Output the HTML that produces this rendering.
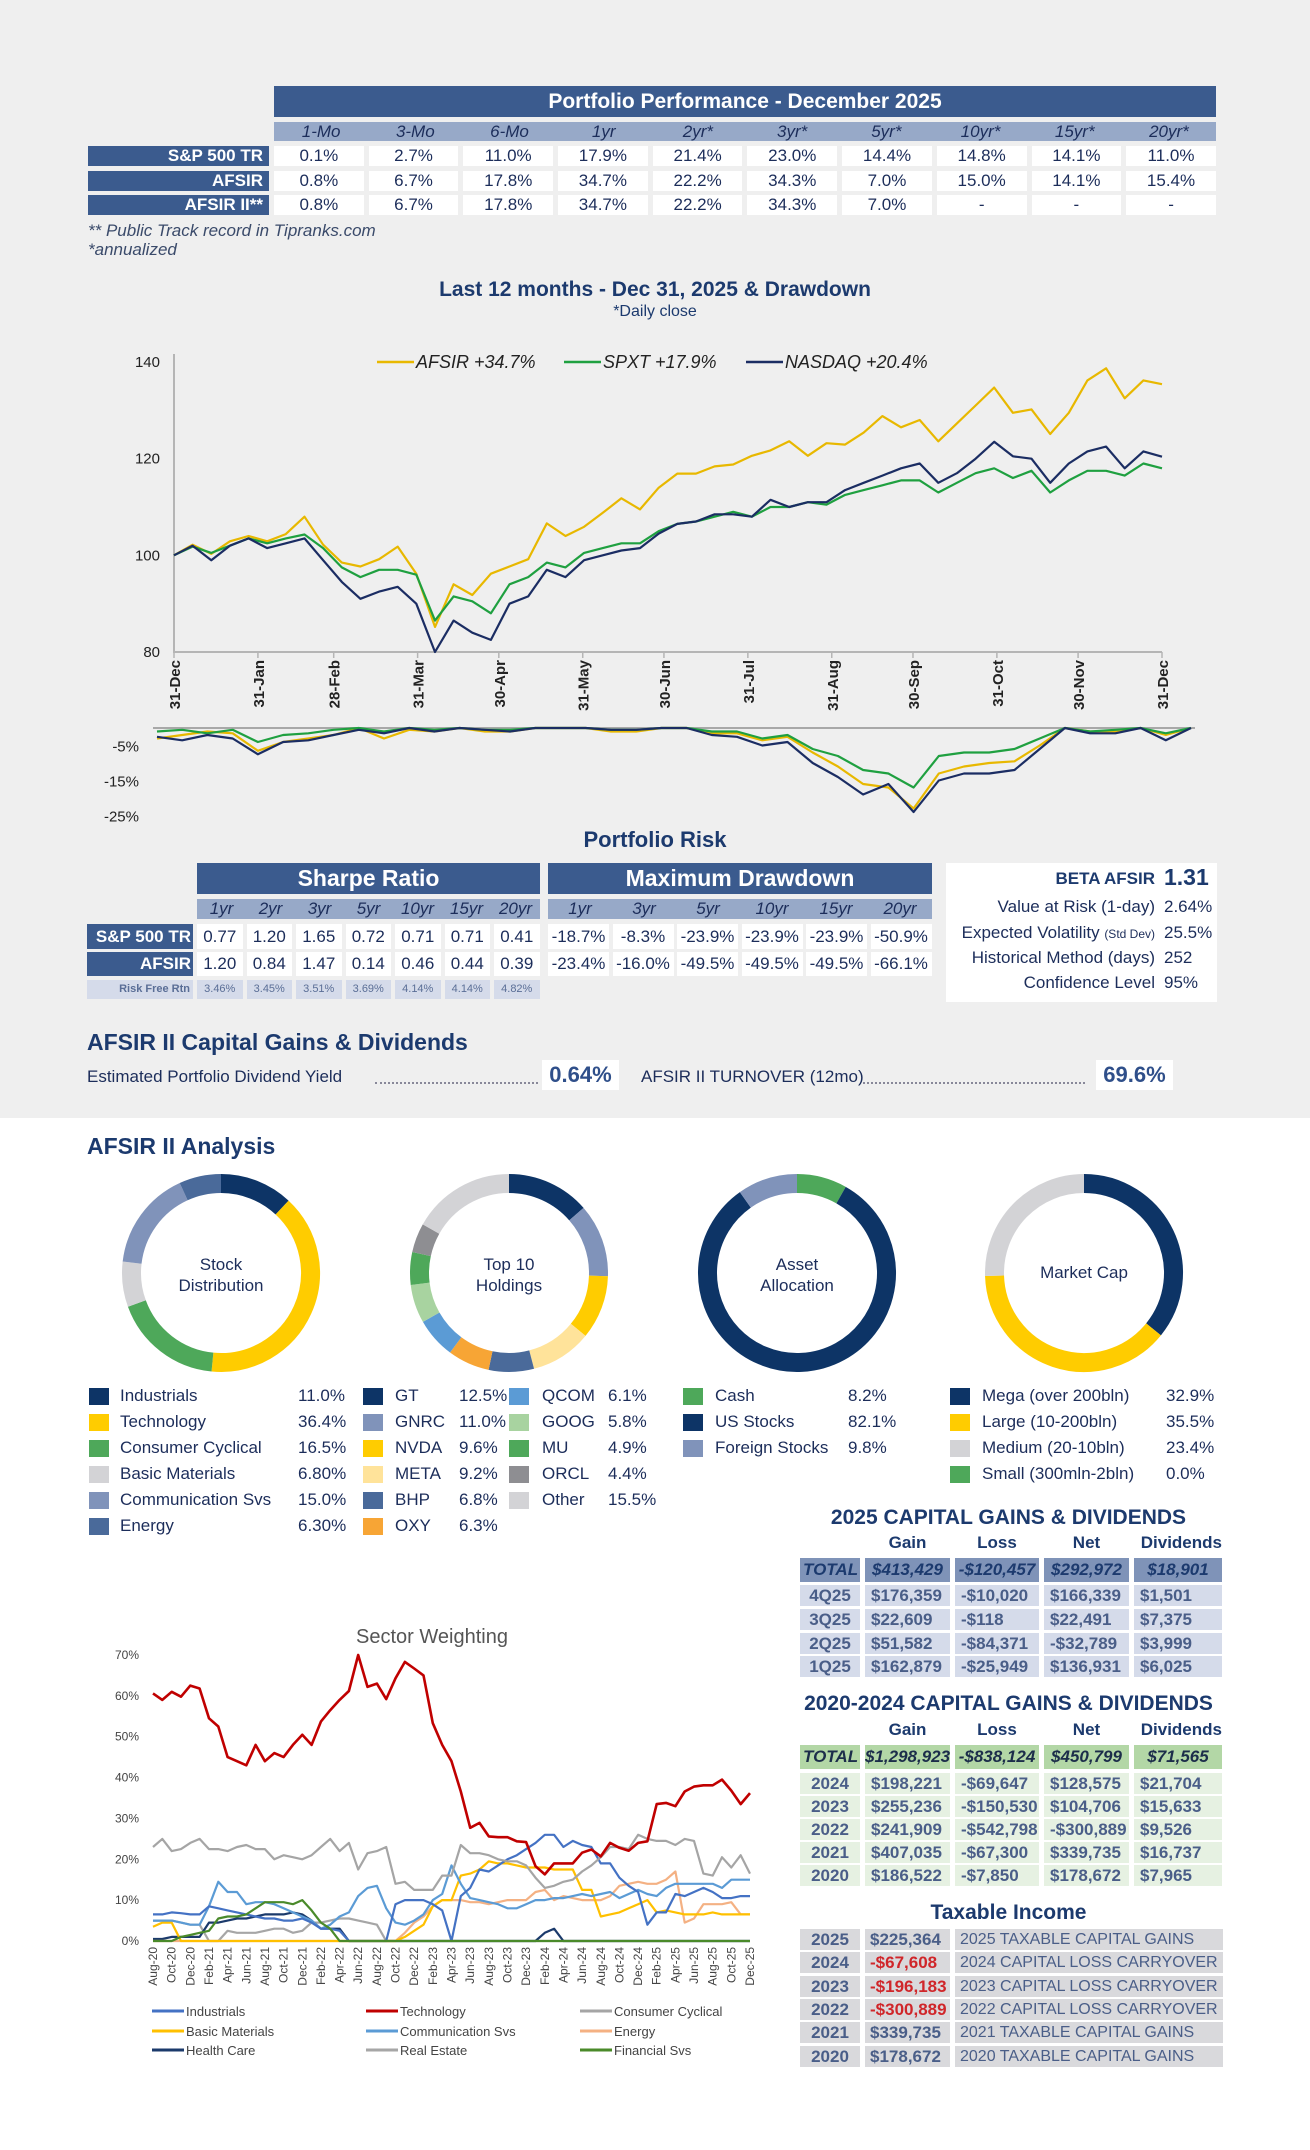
<!DOCTYPE html>
<html><head><meta charset="utf-8">
<style>
*{box-sizing:border-box;margin:0;padding:0}
body{width:1310px;height:2150px;position:relative;background:#fff;font-family:"Liberation Sans Narrow","Liberation Sans",sans-serif;color:#1c2d5a;overflow:hidden}
.abs{position:absolute}
.row{position:absolute;display:flex;gap:5px}
.lab{background:#3b5b8e;color:#fff;font-weight:bold;text-align:right;padding-right:6px}
.cell{background:#fff;text-align:center}
.hd{background:#3b5b8e;color:#fff;font-weight:bold;text-align:center}
.sub{background:#97a9c8;font-style:italic;text-align:center;display:flex}
.cg{position:absolute;display:flex;gap:5px;font-family:"Liberation Sans",sans-serif;font-weight:bold;font-size:17px}
.cg div{height:21px;line-height:21px;white-space:nowrap;overflow:hidden}
.sw{position:absolute;width:20px;height:17px}
.lg{position:absolute;font-size:17px;color:#1c2d5a;white-space:nowrap}
</style></head><body>
<div class="abs" style="left:0;top:0;width:1310px;height:1118px;background:#efefef"></div>

<!-- Performance table -->
<div class="abs hd" style="left:274px;top:86px;width:942px;height:31px;line-height:31px;font-size:21px">Portfolio Performance - December 2025</div>
<div class="abs sub" style="left:274px;top:122px;width:942px;height:19px;line-height:19px;font-size:17px;color:#1c2d5a">
<div style="flex:1">1-Mo</div><div style="flex:1">3-Mo</div><div style="flex:1">6-Mo</div><div style="flex:1">1yr</div><div style="flex:1">2yr*</div><div style="flex:1">3yr*</div><div style="flex:1">5yr*</div><div style="flex:1">10yr*</div><div style="flex:1">15yr*</div><div style="flex:1">20yr*</div></div>
<div class="row" style="left:88px;top:146px;height:20px;line-height:20px;font-size:17px">
<div class="lab" style="width:181px">S&amp;P 500 TR</div><div class="cell" style="width:89.7px">0.1%</div><div class="cell" style="width:89.7px">2.7%</div><div class="cell" style="width:89.7px">11.0%</div><div class="cell" style="width:89.7px">17.9%</div><div class="cell" style="width:89.7px">21.4%</div><div class="cell" style="width:89.7px">23.0%</div><div class="cell" style="width:89.7px">14.4%</div><div class="cell" style="width:89.7px">14.8%</div><div class="cell" style="width:89.7px">14.1%</div><div class="cell" style="width:89.7px">11.0%</div></div>
<div class="row" style="left:88px;top:171px;height:20px;line-height:20px;font-size:17px">
<div class="lab" style="width:181px">AFSIR</div><div class="cell" style="width:89.7px">0.8%</div><div class="cell" style="width:89.7px">6.7%</div><div class="cell" style="width:89.7px">17.8%</div><div class="cell" style="width:89.7px">34.7%</div><div class="cell" style="width:89.7px">22.2%</div><div class="cell" style="width:89.7px">34.3%</div><div class="cell" style="width:89.7px">7.0%</div><div class="cell" style="width:89.7px">15.0%</div><div class="cell" style="width:89.7px">14.1%</div><div class="cell" style="width:89.7px">15.4%</div></div>
<div class="row" style="left:88px;top:195px;height:20px;line-height:20px;font-size:17px">
<div class="lab" style="width:181px">AFSIR II**</div><div class="cell" style="width:89.7px">0.8%</div><div class="cell" style="width:89.7px">6.7%</div><div class="cell" style="width:89.7px">17.8%</div><div class="cell" style="width:89.7px">34.7%</div><div class="cell" style="width:89.7px">22.2%</div><div class="cell" style="width:89.7px">34.3%</div><div class="cell" style="width:89.7px">7.0%</div><div class="cell" style="width:89.7px">-</div><div class="cell" style="width:89.7px">-</div><div class="cell" style="width:89.7px">-</div></div>
<div class="abs" style="left:88px;top:221px;font-size:17px;font-style:italic;color:#3a4a6a">** Public Track record in Tipranks.com</div>
<div class="abs" style="left:88px;top:240px;font-size:17px;font-style:italic;color:#3a4a6a">*annualized</div>

<!-- Main chart titles -->
<div class="abs" style="left:0;width:1310px;top:278px;text-align:center;font-size:21px;font-weight:bold;color:#1c3a6e">Last 12 months - Dec 31, 2025 &amp; Drawdown</div>
<div class="abs" style="left:0;width:1310px;top:303px;text-align:center;font-size:16px;color:#1c3a6e">*Daily close</div>

<svg id="main" class="abs" style="left:0;top:0" width="1310" height="840"></svg>

<!-- Portfolio Risk -->
<div class="abs" style="left:0;width:1310px;top:827px;text-align:center;font-size:22px;font-weight:bold;color:#1c3a6e">Portfolio Risk</div>
<div class="abs hd" style="left:197px;top:863px;width:343px;height:31px;line-height:31px;font-size:23px">Sharpe Ratio</div>
<div class="abs hd" style="left:548px;top:863px;width:384px;height:31px;line-height:31px;font-size:23px">Maximum Drawdown</div>
<div class="abs sub" style="left:197px;top:899px;width:343px;height:20px;line-height:20px;font-size:17px"><div style="flex:1">1yr</div><div style="flex:1">2yr</div><div style="flex:1">3yr</div><div style="flex:1">5yr</div><div style="flex:1">10yr</div><div style="flex:1">15yr</div><div style="flex:1">20yr</div></div>
<div class="abs sub" style="left:548px;top:899px;width:384px;height:20px;line-height:20px;font-size:17px"><div style="flex:1">1yr</div><div style="flex:1">3yr</div><div style="flex:1">5yr</div><div style="flex:1">10yr</div><div style="flex:1">15yr</div><div style="flex:1">20yr</div></div>
<div class="row" style="left:87px;top:924px;height:25px;line-height:25px;font-size:17px;gap:4px">
<div class="lab" style="width:106px;padding-right:2px">S&amp;P 500 TR</div><div class="cell" style="width:45.5px">0.77</div><div class="cell" style="width:45.5px">1.20</div><div class="cell" style="width:45.5px">1.65</div><div class="cell" style="width:45.5px">0.72</div><div class="cell" style="width:45.5px">0.71</div><div class="cell" style="width:45.5px">0.71</div><div class="cell" style="width:45.5px">0.41</div></div>
<div class="row" style="left:87px;top:952px;height:24px;line-height:24px;font-size:17px;gap:4px">
<div class="lab" style="width:106px;padding-right:2px">AFSIR</div><div class="cell" style="width:45.5px">1.20</div><div class="cell" style="width:45.5px">0.84</div><div class="cell" style="width:45.5px">1.47</div><div class="cell" style="width:45.5px">0.14</div><div class="cell" style="width:45.5px">0.46</div><div class="cell" style="width:45.5px">0.44</div><div class="cell" style="width:45.5px">0.39</div></div>
<div class="row" style="left:87px;top:980px;height:19px;line-height:19px;font-size:11px;gap:4px;color:#5a6e96">
<div style="width:106px;background:#d5dbea;text-align:right;padding-right:3px;font-weight:bold">Risk Free Rtn</div><div style="width:45.5px;background:#d5dbea;text-align:center">3.46%</div><div style="width:45.5px;background:#d5dbea;text-align:center">3.45%</div><div style="width:45.5px;background:#d5dbea;text-align:center">3.51%</div><div style="width:45.5px;background:#d5dbea;text-align:center">3.69%</div><div style="width:45.5px;background:#d5dbea;text-align:center">4.14%</div><div style="width:45.5px;background:#d5dbea;text-align:center">4.14%</div><div style="width:45.5px;background:#d5dbea;text-align:center">4.82%</div></div>
<div class="row" style="left:548px;top:924px;height:25px;line-height:25px;font-size:17px;gap:3.5px">
<div class="cell" style="width:61px">-18.7%</div><div class="cell" style="width:61px">-8.3%</div><div class="cell" style="width:61px">-23.9%</div><div class="cell" style="width:61px">-23.9%</div><div class="cell" style="width:61px">-23.9%</div><div class="cell" style="width:61px">-50.9%</div></div>
<div class="row" style="left:548px;top:952px;height:24px;line-height:24px;font-size:17px;gap:3.5px">
<div class="cell" style="width:61px">-23.4%</div><div class="cell" style="width:61px">-16.0%</div><div class="cell" style="width:61px">-49.5%</div><div class="cell" style="width:61px">-49.5%</div><div class="cell" style="width:61px">-49.5%</div><div class="cell" style="width:61px">-66.1%</div></div>
<div class="abs" style="left:946px;top:863px;width:271px;height:139px;background:#fff;font-size:17px">
<div class="abs" style="right:62px;top:6px;font-weight:bold;color:#1c3a6e">BETA AFSIR</div><div class="abs" style="left:218px;top:1px;font-weight:bold;font-size:23px;color:#1c3a6e">1.31</div>
<div class="abs" style="right:62px;top:34px">Value at Risk (1-day)</div><div class="abs" style="left:218px;top:34px">2.64%</div>
<div class="abs" style="right:62px;top:60px">Expected Volatility <span style="font-size:12px">(Std Dev)</span></div><div class="abs" style="left:218px;top:60px">25.5%</div>
<div class="abs" style="right:62px;top:85px">Historical Method (days)</div><div class="abs" style="left:218px;top:85px">252</div>
<div class="abs" style="right:62px;top:110px">Confidence Level</div><div class="abs" style="left:218px;top:110px">95%</div></div>

<div class="abs" style="left:87px;top:1029px;font-size:23px;font-weight:bold;color:#1c3a6e">AFSIR II Capital Gains &amp; Dividends</div>
<div class="abs" style="left:87px;top:1067px;font-size:17px">Estimated Portfolio Dividend Yield</div>
<div class="abs" style="left:375px;top:1082px;width:163px;border-bottom:2px dotted #889"></div>
<div class="abs" style="left:542px;top:1060px;width:77px;height:30px;line-height:30px;background:#fff;text-align:center;font-size:22px;font-weight:bold;color:#2f4f8a">0.64%</div>
<div class="abs" style="left:641px;top:1067px;font-size:17px">AFSIR II TURNOVER (12mo)</div>
<div class="abs" style="left:863px;top:1082px;width:222px;border-bottom:2px dotted #889"></div>
<div class="abs" style="left:1096px;top:1060px;width:77px;height:30px;line-height:30px;background:#fff;text-align:center;font-size:22px;font-weight:bold;color:#2f4f8a">69.6%</div>

<!-- Analysis -->
<div class="abs" style="left:87px;top:1133px;font-size:23px;font-weight:bold;color:#1c3a6e">AFSIR II Analysis</div>
<svg id="donuts" class="abs" style="left:0;top:1160px" width="1310" height="230"></svg>

<!-- legends -->
<div>
<div class="sw" style="left:89px;top:1388px;background:#0d3466"></div><div class="lg" style="left:120px;top:1386px">Industrials</div><div class="lg" style="left:298px;top:1386px">11.0%</div>
<div class="sw" style="left:89px;top:1414px;background:#ffcc00"></div><div class="lg" style="left:120px;top:1412px">Technology</div><div class="lg" style="left:298px;top:1412px">36.4%</div>
<div class="sw" style="left:89px;top:1440px;background:#4ea85a"></div><div class="lg" style="left:120px;top:1438px">Consumer Cyclical</div><div class="lg" style="left:298px;top:1438px">16.5%</div>
<div class="sw" style="left:89px;top:1466px;background:#d3d3d6"></div><div class="lg" style="left:120px;top:1464px">Basic Materials</div><div class="lg" style="left:298px;top:1464px">6.80%</div>
<div class="sw" style="left:89px;top:1492px;background:#8093ba"></div><div class="lg" style="left:120px;top:1490px">Communication Svs</div><div class="lg" style="left:298px;top:1490px">15.0%</div>
<div class="sw" style="left:89px;top:1518px;background:#4a6a9a"></div><div class="lg" style="left:120px;top:1516px">Energy</div><div class="lg" style="left:298px;top:1516px">6.30%</div></div>
<div>
<div class="sw" style="left:363px;top:1388px;background:#0d3466"></div><div class="lg" style="left:395px;top:1386px">GT</div><div class="lg" style="left:459px;top:1386px">12.5%</div>
<div class="sw" style="left:363px;top:1414px;background:#8093ba"></div><div class="lg" style="left:395px;top:1412px">GNRC</div><div class="lg" style="left:459px;top:1412px">11.0%</div>
<div class="sw" style="left:363px;top:1440px;background:#ffcc00"></div><div class="lg" style="left:395px;top:1438px">NVDA</div><div class="lg" style="left:459px;top:1438px">9.6%</div>
<div class="sw" style="left:363px;top:1466px;background:#ffe39a"></div><div class="lg" style="left:395px;top:1464px">META</div><div class="lg" style="left:459px;top:1464px">9.2%</div>
<div class="sw" style="left:363px;top:1492px;background:#4a6a9a"></div><div class="lg" style="left:395px;top:1490px">BHP</div><div class="lg" style="left:459px;top:1490px">6.8%</div>
<div class="sw" style="left:363px;top:1518px;background:#f7a535"></div><div class="lg" style="left:395px;top:1516px">OXY</div><div class="lg" style="left:459px;top:1516px">6.3%</div>
<div class="sw" style="left:509px;top:1388px;background:#5b9bd5"></div><div class="lg" style="left:542px;top:1386px">QCOM</div><div class="lg" style="left:608px;top:1386px">6.1%</div>
<div class="sw" style="left:509px;top:1414px;background:#a8d3a0"></div><div class="lg" style="left:542px;top:1412px">GOOG</div><div class="lg" style="left:608px;top:1412px">5.8%</div>
<div class="sw" style="left:509px;top:1440px;background:#4ea85a"></div><div class="lg" style="left:542px;top:1438px">MU</div><div class="lg" style="left:608px;top:1438px">4.9%</div>
<div class="sw" style="left:509px;top:1466px;background:#8e8e92"></div><div class="lg" style="left:542px;top:1464px">ORCL</div><div class="lg" style="left:608px;top:1464px">4.4%</div>
<div class="sw" style="left:509px;top:1492px;background:#d3d3d6"></div><div class="lg" style="left:542px;top:1490px">Other</div><div class="lg" style="left:608px;top:1490px">15.5%</div></div>
<div>
<div class="sw" style="left:683px;top:1388px;background:#4ea85a"></div><div class="lg" style="left:715px;top:1386px">Cash</div><div class="lg" style="left:848px;top:1386px">8.2%</div>
<div class="sw" style="left:683px;top:1414px;background:#0d3466"></div><div class="lg" style="left:715px;top:1412px">US Stocks</div><div class="lg" style="left:848px;top:1412px">82.1%</div>
<div class="sw" style="left:683px;top:1440px;background:#8093ba"></div><div class="lg" style="left:715px;top:1438px">Foreign Stocks</div><div class="lg" style="left:848px;top:1438px">9.8%</div></div>
<div>
<div class="sw" style="left:950px;top:1388px;background:#0d3466"></div><div class="lg" style="left:982px;top:1386px">Mega (over 200bln)</div><div class="lg" style="left:1166px;top:1386px">32.9%</div>
<div class="sw" style="left:950px;top:1414px;background:#ffcc00"></div><div class="lg" style="left:982px;top:1412px">Large (10-200bln)</div><div class="lg" style="left:1166px;top:1412px">35.5%</div>
<div class="sw" style="left:950px;top:1440px;background:#d3d3d6"></div><div class="lg" style="left:982px;top:1438px">Medium (20-10bln)</div><div class="lg" style="left:1166px;top:1438px">23.4%</div>
<div class="sw" style="left:950px;top:1466px;background:#4ea85a"></div><div class="lg" style="left:982px;top:1464px">Small (300mln-2bln)</div><div class="lg" style="left:1166px;top:1464px">0.0%</div></div>

<!-- Capital gains tables -->
<div class="abs" style="left:780px;width:457px;top:1506px;text-align:center;font-family:'Liberation Sans',sans-serif;font-weight:bold;font-size:21px;color:#1c3a6e">2025 CAPITAL GAINS &amp; DIVIDENDS</div>
<div class="cg" style="left:800px;top:1532px;color:#1c3a6e"><div style="width:60px"></div><div style="width:85px;text-align:center">Gain</div><div style="width:84px;text-align:center">Loss</div><div style="width:85px;text-align:center">Net</div><div style="width:88px;text-align:right">Dividends</div></div>
<div class="cg" style="left:800px;top:1558px;font-style:italic;color:#1c3a6e"><div style="width:60px;background:#7f93b8;height:24px;line-height:24px;padding-left:3px">TOTAL</div><div style="width:85px;background:#7f93b8;height:24px;line-height:24px;text-align:center">$413,429</div><div style="width:84px;background:#7f93b8;height:24px;line-height:24px;text-align:center">-$120,457</div><div style="width:85px;background:#7f93b8;height:24px;line-height:24px;text-align:center">$292,972</div><div style="width:88px;background:#7f93b8;height:24px;line-height:24px;text-align:center">$18,901</div></div>
<div id="cg25"></div>
<div class="abs" style="left:780px;width:457px;top:1692px;text-align:center;font-family:'Liberation Sans',sans-serif;font-weight:bold;font-size:21px;color:#1c3a6e">2020-2024 CAPITAL GAINS &amp; DIVIDENDS</div>
<div class="cg" style="left:800px;top:1719px;color:#1c3a6e"><div style="width:60px"></div><div style="width:85px;text-align:center">Gain</div><div style="width:84px;text-align:center">Loss</div><div style="width:85px;text-align:center">Net</div><div style="width:88px;text-align:right">Dividends</div></div>
<div class="cg" style="left:800px;top:1745px;font-style:italic;color:#1c2d4a"><div style="width:60px;background:#b3d7a6;height:24px;line-height:24px;padding-left:3px">TOTAL</div><div style="width:85px;background:#b3d7a6;height:24px;line-height:24px;text-align:center">$1,298,923</div><div style="width:84px;background:#b3d7a6;height:24px;line-height:24px;text-align:center">-$838,124</div><div style="width:85px;background:#b3d7a6;height:24px;line-height:24px;text-align:center">$450,799</div><div style="width:88px;background:#b3d7a6;height:24px;line-height:24px;text-align:center">$71,565</div></div>
<div id="cg20"></div>
<div class="abs" style="left:780px;width:457px;top:1901px;text-align:center;font-family:'Liberation Sans',sans-serif;font-weight:bold;font-size:21px;color:#1c3a6e">Taxable Income</div>
<div id="tax"></div>

<svg id="sector" class="abs" style="left:0;top:0" width="1310" height="2150"></svg>

<script>
const NS='http://www.w3.org/2000/svg';
function mk(parent,tag,attrs,text){const e=document.createElementNS(NS,tag);for(const k in attrs)e.setAttribute(k,attrs[k]);if(text!==undefined)e.textContent=text;parent.appendChild(e);return e;}

/* ---------- Main 12-month chart data (weekly samples) ---------- */
const mainTickDays=[0,31,59,90,120,151,181,212,243,273,304,334,365];
const mainTickLabels=['31-Dec','31-Jan','28-Feb','31-Mar','30-Apr','31-May','30-Jun','31-Jul','31-Aug','30-Sep','31-Oct','30-Nov','31-Dec'];
const mainYTicks=[80,100,120,140];
const afsirVals=[100,102.2,100.3,102.9,104,102.9,104.4,108,102.2,98.5,97.7,99.2,101.8,96.2,85.2,94,91.8,96.2,97.7,99.2,106.6,104,105.9,108.8,111.8,109.5,114,116.9,116.9,118.4,118.8,120.6,121.7,123.6,120.6,123.2,122.9,125.4,128.8,126.5,128,123.6,127.3,131,134.7,129.5,130.2,125.1,129.5,136.2,138.7,132.5,136.2,135.4];
const spxtVals=[100,101.8,100.5,102,103.5,102.5,103.5,104.3,101.5,97.5,95.5,97,97,96,86.5,91.5,90.5,88,94,95.5,98.5,97.5,100.5,101.5,102.5,102.5,105,106.5,107,108,109,108,110,110,111,110.5,112.5,113.5,114.5,115.5,115.5,113,115,117,118,116,117.5,113,115.5,117.5,117.5,116.5,119,118];
const nasdaqVals=[100,102,99,102,103.5,101.5,102.5,103.5,99,94.5,91,92.5,93.5,90,80,86.5,84,82.5,90,91.5,97,95.5,99,100,101,101.5,104.5,106.5,107,108.5,108.5,108,111.5,110,111,111,113.5,115,116.5,118,119,115,117,120,123.5,120.5,120,115,119,121.5,122.5,118,121.5,120.4];
const ddYTicks=[-5,-15,-25];
const ddAfsir=[-3,-2,-1,-1.5,-6.5,-4,-3,-2,0,-3,-0.5,-1,0,-1,-1,0,0,0,-1,-1,0,0,-1.5,-1.5,-3.5,-2.5,-7,-11,-16,-17,-23,-13,-11,-10,-9.5,-5,0,-1,-1,0,-2,0];
const ddSpxt=[-1,-0.5,-1.5,-0.5,-4,-2,-1.5,-0.5,0,-1,0,-0.5,0,-0.5,-0.5,0,0,0,-0.5,-0.5,0,0,-1,-1,-3,-2,-6,-8,-12,-13,-17,-8,-7,-7,-6,-3,0,-1,-0.5,0,-1.5,0];
const ddNasdaq=[-2.5,-3.5,-2,-3,-7.5,-4,-3.5,-2,-0.5,-1.5,0,-1,0,-0.5,-1,0,0,0,-0.5,-0.5,0,0,-2,-2.5,-5,-4,-10,-14,-19,-16,-24,-15,-13,-13,-12,-6,0,-1.5,-1.5,0,-3.5,0];

(function(){
const svg=document.getElementById('main');
const X0=174,X1=1162,Y0=652,Y1=362,VMIN=80,VMAX=140;
const xd=d=>X0+d/365*(X1-X0);
const yv=v=>Y0-(v-VMIN)/(VMAX-VMIN)*(Y0-Y1);
const ax=mk(svg,'path',{d:`M${X0},${Y1-8}V${Y0}H${X1}`,stroke:'#b5b5b5','stroke-width':2,fill:'none'});


mainYTicks.forEach(v=>{const t=mk(svg,'text',{x:X0-14,y:yv(v)+5,'text-anchor':'end','font-size':15,fill:'#222','font-family':'Liberation Sans Narrow, Liberation Sans, sans-serif'},String(v));

});
mainTickDays.forEach((d,i)=>{const x=xd(d);mk(svg,'line',{x1:x,x2:x,y1:Y0,y2:Y0+6,stroke:'#b5b5b5','stroke-width':1.5});
const t=mk(svg,'text',{x:x+6,y:660,'text-anchor':'end','font-size':15,'font-weight':'bold',fill:'#222',transform:`rotate(-90 ${x+6} 660)`,'font-family':'Liberation Sans Narrow, Liberation Sans, sans-serif'},mainTickLabels[i]);

});
function line(vals,color,name){const n=vals.length;const d=vals.map((v,i)=>(i?'L':'M')+xd(i/(n-1)*365).toFixed(1)+','+yv(v).toFixed(1)).join('');
const p=mk(svg,'path',{d:d,stroke:color,'stroke-width':2.2,fill:'none','stroke-linejoin':'round'});

}
line(afsirVals,'#e8b800','afsir-line');line(spxtVals,'#1fa040','spxt-line');line(nasdaqVals,'#1b2d63','nasdaq-line');
const leg=[['AFSIR +34.7%','#e8b800',377],['SPXT +17.9%','#1fa040',564],['NASDAQ +20.4%','#1b2d63',746]];
leg.forEach(l=>{mk(svg,'line',{x1:l[2],x2:l[2]+37,y1:362,y2:362,stroke:l[1],'stroke-width':2.5});
const t=mk(svg,'text',{x:l[2]+39,y:368,'font-size':18,'font-style':'italic',fill:'#222','font-family':'Liberation Sans Narrow, Liberation Sans, sans-serif'},l[0]);

});
const D0=157,D1=1191,DY=728;
const yd=p=>DY-p*3.5;
mk(svg,'line',{x1:D0-4,x2:D1+4,y1:DY,y2:DY,stroke:'#a8a8a8','stroke-width':2});
ddYTicks.forEach(p=>{const t=mk(svg,'text',{x:139,y:yd(p)+6,'text-anchor':'end','font-size':15,fill:'#222','font-family':'Liberation Sans Narrow, Liberation Sans, sans-serif'},p+'%');

});
function dd(vals,color,name){const n=vals.length;const d=vals.map((v,i)=>(i?'L':'M')+(D0+i/(n-1)*(D1-D0)).toFixed(1)+','+yd(v).toFixed(1)).join('');
const p=mk(svg,'path',{d:d,stroke:color,'stroke-width':2.2,fill:'none','stroke-linejoin':'round'});

}
dd(ddAfsir,'#e8b800','afsir-drawdown');dd(ddSpxt,'#1fa040','spxt-drawdown');dd(ddNasdaq,'#1b2d63','nasdaq-drawdown');
})();

/* ---------- Donuts ---------- */
const stockDistValues=[11.0,36.4,16.5,6.8,15.0,6.3];
const stockDistColors=['#0d3466','#ffcc00','#4ea85a','#d3d3d6','#8093ba','#4a6a9a'];
const top10Values=[12.5,11.0,9.6,9.2,6.8,6.3,6.1,5.8,4.9,4.4,15.5];
const top10Colors=['#0d3466','#8093ba','#ffcc00','#ffe39a','#4a6a9a','#f7a535','#5b9bd5','#a8d3a0','#4ea85a','#8e8e92','#d3d3d6'];
const assetValues=[8.2,82.1,9.8];
const assetColors=['#4ea85a','#0d3466','#8093ba'];
const capValues=[32.9,35.5,23.4,0.0];
const capColors=['#0d3466','#ffcc00','#d3d3d6','#4ea85a'];
(function(){
const svg=document.getElementById('donuts');
const R=89.5,W=19,CY=1273-1160;
function donut(cx,vals,cols,labels,name){const sum=vals.reduce((a,b)=>a+b,0);let a0=0;
mk(svg,'circle',{cx:cx,cy:CY,r:R+W/2,fill:'#fff'});
vals.forEach((v,i)=>{if(v<=0)return;const a1=a0+v/sum*Math.PI*2;
const p1=[cx+R*Math.sin(a0),CY-R*Math.cos(a0)],p2=[cx+R*Math.sin(a1),CY-R*Math.cos(a1)];
const s=mk(svg,'path',{d:`M${p1[0]},${p1[1]}A${R},${R} 0 ${a1-a0>Math.PI?1:0} 1 ${p2[0]},${p2[1]}`,stroke:cols[i],'stroke-width':W,fill:'none'});


a0=a1;});
labels.forEach((l,i)=>{const t=mk(svg,'text',{x:cx,y:CY+(labels.length===1?5:-3+i*21),'text-anchor':'middle','font-size':17,fill:'#1c2d5a','font-family':'Liberation Sans Narrow, Liberation Sans, sans-serif'},l);

});}
donut(221,stockDistValues,stockDistColors,['Stock','Distribution'],'stock-distribution');
donut(509,top10Values,top10Colors,['Top 10','Holdings'],'top-holdings');
donut(797,assetValues,assetColors,['Asset','Allocation'],'asset-allocation');
donut(1084,capValues,capColors,['Market Cap'],'market-cap');
})();

/* ---------- Capital gains rows ---------- */
function cgRows(id,tops,rows,bg,name){const host=document.getElementById(id);
rows.forEach((r,i)=>{const d=document.createElement('div');d.className='cg';d.style.left='800px';d.style.top=tops[i]+'px';d.style.color='#4a5e88';


const w=[60,85,84,85,88];r.forEach((c,j)=>{const e=document.createElement('div');e.style.width=w[j]+'px';e.style.background=bg;e.style.textAlign=j===0?'center':'left';e.style.paddingLeft=j?'6px':'0';e.textContent=c;d.appendChild(e);});host.appendChild(d);});}
cgRows('cg25',[1585,1609,1633,1656],[['4Q25','$176,359','-$10,020','$166,339','$1,501'],['3Q25','$22,609','-$118','$22,491','$7,375'],['2Q25','$51,582','-$84,371','-$32,789','$3,999'],['1Q25','$162,879','-$25,949','$136,931','$6,025']],'#d5dbea','cg-2025-row');
cgRows('cg20',[1773,1796,1819,1842,1865],[['2024','$198,221','-$69,647','$128,575','$21,704'],['2023','$255,236','-$150,530','$104,706','$15,633'],['2022','$241,909','-$542,798','-$300,889','$9,526'],['2021','$407,035','-$67,300','$339,735','$16,737'],['2020','$186,522','-$7,850','$178,672','$7,965']],'#e6f1e2','cg-2020-2024-row');
(function(){const host=document.getElementById('tax');
const rows=[['2025','$225,364','2025 TAXABLE CAPITAL GAINS'],['2024','-$67,608','2024 CAPITAL LOSS CARRYOVER'],['2023','-$196,183','2023 CAPITAL LOSS CARRYOVER'],['2022','-$300,889','2022 CAPITAL LOSS CARRYOVER'],['2021','$339,735','2021 TAXABLE CAPITAL GAINS'],['2020','$178,672','2020 TAXABLE CAPITAL GAINS']];
rows.forEach((r,i)=>{const d=document.createElement('div');d.className='cg';d.style.left='800px';d.style.top=(1929+i*23.3)+'px';d.style.color='#4a5e88';


const w=[60,85,268];r.forEach((c,j)=>{const e=document.createElement('div');e.style.width=w[j]+'px';e.style.background='#d9d9dc';e.style.textAlign=j===0?'center':'left';e.style.paddingLeft=j?'5px':'0';e.style.fontWeight=j===2?'normal':'bold';if(j===2)e.style.fontSize='16px';if(j===1&&c[0]==='-')e.style.color='#d0262a';e.textContent=c;d.appendChild(e);});host.appendChild(d);});})();

/* ---------- Sector weighting ---------- */
const sectorXLabels=['Aug-20','Oct-20','Dec-20','Feb-21','Apr-21','Jun-21','Aug-21','Oct-21','Dec-21','Feb-22','Apr-22','Jun-22','Aug-22','Oct-22','Dec-22','Feb-23','Apr-23','Jun-23','Aug-23','Oct-23','Dec-23','Feb-24','Apr-24','Jun-24','Aug-24','Oct-24','Dec-24','Feb-25','Apr-25','Jun-25','Aug-25','Oct-25','Dec-25'];
const sectorYTicks=[0,10,20,30,40,50,60,70];
const technology=[60.6,59,61,59.8,62.5, 61.8,54.5,52.5,45,44,43,48,44,46,45,48,50.5, 48,53.7,56.5,59,61.2,70,62.2,63,59.2,64.3,68.3,66.7, 65,53.3,48,44,36.6,27.7,28.9,25.6,25.4,25.4,24.4,24.2, 18.3,16.3,19,19,19,21.6,22.4,20.7,24,22.8,22.1,24, 24.4,33.5,33.8,33,36.6,37.8,38.1,38.1,39.5,36.8,33.5,36.2];
const consumerCyclical=[23,25,22,22.5,24, 25,22.5,22.5,22,23,23.5,22.5,22.5,20,21,20.5,20, 21,23,25,22,24,17.5,21.5,22,23,14,14.5,12.5, 12.5,12.5,16,16,23.5,21.5,21.5,21,20,19.5,19.5,18.5, 15.5,13,13.5,14.5,15,17,18.5,20.5,23,23,22.5,26, 25,24.5,24.5,23.5,25,24.5,16.5,16,20.5,18,21,16.5];
const industrials=[6.5,6.5,7,6.8,6.5, 6.5,8.5,8,7.5,7,6.5,6,5.5,5.5,5,5,5.5, 4.5,3,3,2.5,0,0,0,0,0,9,10,10, 10,9,7.5,0,11,13,17.5,17,18.5,20,21,22.5, 24,26,26,23,24.5,23.5,23,19,19,15.5,13.5,12, 4,7,7,11.5,11,12,13,12,10.5,10.5,11,11];
const communicationSvs=[5,5,5,4.5,4, 4,8.5,14.5,12,12,9,9.5,9.5,9,8,7,6, 5,3,4,6,7,11,13,13.5,8,4.5,4,5, 6.5,10,11.5,18.5,14,10.5,10,9.5,9,8,8,9, 10,10,10.5,10.5,11,11.5,11,11.5,12,10.5,11.5,12.5, 11.5,11,13,14,14,14,14,14,13,15,15,15];
const basicMaterials=[3.5,4.5,4.5,0,0, 0,0,0,0,0,0,0,0,0,0,0,0, 0,0,0,0,0,0,0,0,0,0,1,2.5, 4,8.5,10,10,16,16.5,17.5,19.5,19,19,18.5,18, 18,18,17.5,17.5,17.5,12.5,12.5,6,6.5,7,8,9, 10,7,7.5,7,6.5,6.5,6.5,7,6.5,6.5,6.5,6.5];
const energy=[0,0,0,0,0, 0,0,0,0,0,0,0,0,0,0,0,0, 0,0,0,0,0,0,0,0,0,0,2,4.5, 6,8.5,10,10,10,9.5,9.5,9,9.5,10,10,10, 12,12.5,10,11,10.5,10,10,10,11,13.5,14,14.5, 14,14,15,17,4.5,5.5,9,9,9,9.5,6.5,6.5];
const healthCare=[0.5,0.5,1,1,1, 1,4.5,4.5,5,5.5,5.5,6,6.5,6.5,6.5,7,6.5, 5,3,3,3,0,0,0,0,0,0,0,0, 0,0,0,0,0,0,0,0,0,0,0,0, 0,2,3,0,0,0,0,0,0,0,0,0, 0,0,0,0,0,0,0,0,0,0,0,0];
const realEstate=[5,5,5,4.5,4, 4,0,0,2.5,2,2,2,2.5,3,3,2,2.5, 4.5,4.5,5,5.5,5.5,5,4.5,4,0,0,0,0, 0,0,0,0,0,0,0,0,0,0,0,0, 0,0,0,0,0,0,0,0,0,0,0,0, 0,0,0,0,0,0,0,0,0,0,0,0];
const financialSvs=[0,0,0,1,1.5, 2,2.5,5.5,6,6,6.5,8,9.5,9.5,9.5,9,10, 7.5,4.5,3,0,0,0,0,0,0,0,0,0, 0,0,0,0,0,0,0,0,0,0,0,0, 0,0,0,0,0,0,0,0,0,0,0,0, 0,0,0,0,0,0,0,0,0,0,0,0];
(function(){
const svg=document.getElementById('sector');
const X0=153,X1=750,Y0=1941,PX=286/70,N=65;
const xi=i=>X0+i/(N-1)*(X1-X0);
const yv=v=>Y0-v*PX;
const tt=mk(svg,'text',{x:432,y:1643,'text-anchor':'middle','font-size':20,fill:'#555','font-family':'Liberation Sans Narrow, Liberation Sans, sans-serif'},'Sector Weighting');


sectorYTicks.forEach(v=>{const t=mk(svg,'text',{x:139,y:yv(v)+4,'text-anchor':'end','font-size':12,fill:'#444','font-family':'Liberation Sans, sans-serif'},v+'%');

});
sectorXLabels.forEach((l,i)=>{const x=xi(i*2)+4;const t=mk(svg,'text',{x:x,y:1947,'text-anchor':'end','font-size':12,fill:'#444',transform:`rotate(-90 ${x} 1947)`,'font-family':'Liberation Sans, sans-serif'},l);

});
const series=[[realEstate,'#a6a6a6','real-estate-line'],[healthCare,'#1b3a6b','health-care-line'],[energy,'#f4b183','energy-line'],[basicMaterials,'#ffc000','basic-materials-line'],[communicationSvs,'#5b9bd5','communication-line'],[industrials,'#4472c4','industrials-line'],[consumerCyclical,'#a5a5a5','consumer-cyclical-line'],[financialSvs,'#4a8a2a','financial-line'],[technology,'#c00000','technology-line']];
series.forEach(s=>{const d=s[0].map((v,i)=>(i?'L':'M')+xi(i).toFixed(1)+','+yv(v).toFixed(1)).join('');
const p=mk(svg,'path',{d:d,stroke:s[1],'stroke-width':s[2]==='technology-line'?2.6:2.2,fill:'none','stroke-linejoin':'round'});

});
const legend=[['Industrials','#4472c4',152,2011],['Technology','#c00000',366,2011],['Consumer Cyclical','#a5a5a5',580,2011],['Basic Materials','#ffc000',152,2031],['Communication Svs','#5b9bd5',366,2031],['Energy','#f4b183',580,2031],['Health Care','#1b3a6b',152,2050],['Real Estate','#a6a6a6',366,2050],['Financial Svs','#4a8a2a',580,2050]];
legend.forEach(l=>{mk(svg,'line',{x1:l[2],x2:l[2]+32,y1:l[3],y2:l[3],stroke:l[1],'stroke-width':3});
const t=mk(svg,'text',{x:l[2]+34,y:l[3]+5,'font-size':13,fill:'#444','font-family':'Liberation Sans, sans-serif'},l[0]);

});
})();
</script>
</body></html>
